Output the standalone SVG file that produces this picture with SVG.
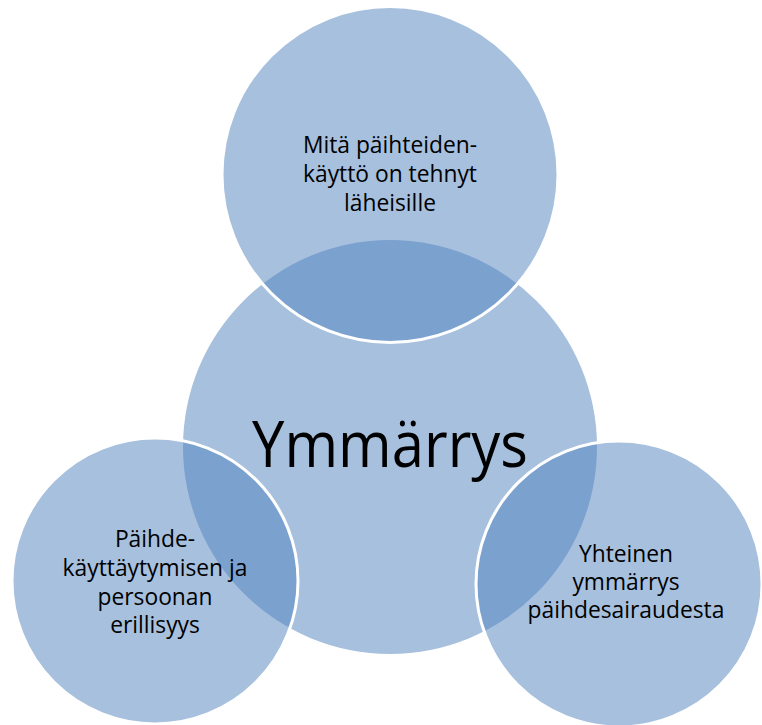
<svg xmlns="http://www.w3.org/2000/svg" width="762" height="725" viewBox="0 0 762 725">
<style>
.c{fill:#4f81bd;fill-opacity:0.5}
.s{stroke:#ffffff;stroke-width:3}
.t{font-family:"Open Sans","Liberation Sans",sans-serif;font-size:22.8px;fill:#000;text-anchor:middle}
.big{font-family:"Open Sans","Liberation Sans",sans-serif;font-size:64px;fill:#000;text-anchor:middle}
</style>
<rect width="762" height="725" fill="#ffffff"/>
<g id="center">
<circle class="c" cx="390" cy="447" r="207"/>
<text class="big" x="390" y="467" textLength="276" lengthAdjust="spacingAndGlyphs">Ymmärrys</text>
</g>
<g id="top">
<circle class="c s" cx="390" cy="174.5" r="168"/>
<text class="t" x="390" y="153">Mitä päihteiden-</text>
<text class="t" x="390" y="182">käyttö on tehnyt</text>
<text class="t" x="390" y="211">läheisille</text>
</g>
<g id="left">
<circle class="c s" cx="155" cy="581" r="143"/>
<text class="t" x="155" y="547">Päihde-</text>
<text class="t" x="155" y="576">käyttäytymisen ja</text>
<text class="t" x="155" y="605">persoonan</text>
<text class="t" x="155" y="633">erillisyys</text>
</g>
<g id="right">
<circle class="c s" cx="619" cy="584" r="143"/>
<text class="t" x="626" y="562">Yhteinen</text>
<text class="t" x="626" y="590">ymmärrys</text>
<text class="t" x="626" y="618">päihdesairaudesta</text>
</g>
<g id="connectors"/>
</svg>
